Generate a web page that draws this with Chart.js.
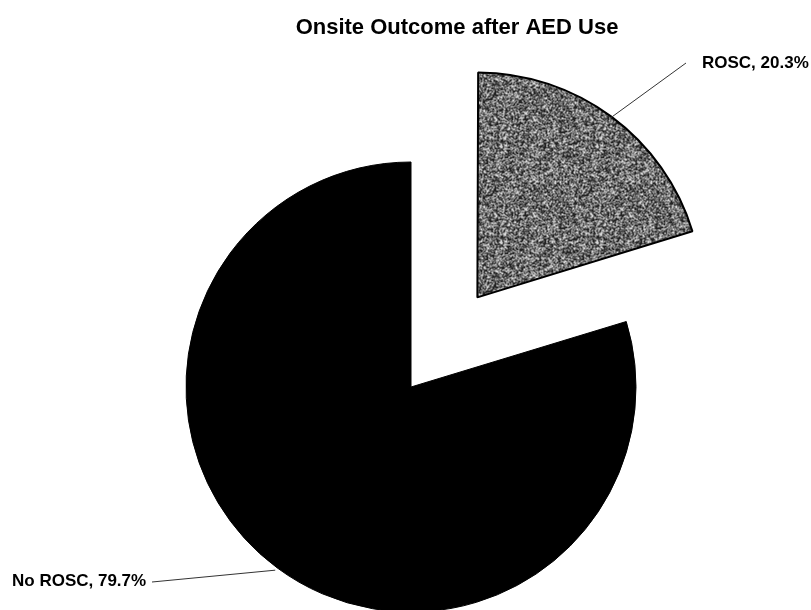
<!DOCTYPE html>
<html>
<head>
<meta charset="utf-8">
<script src="https://cdn.jsdelivr.net/npm/chart.js@4.4.1/dist/chart.umd.min.js"></script>
<style>
  html, body { margin: 0; padding: 0; background: #fff; }
  #wrap { width: 811px; height: 610px; position: relative; }
</style>
</head>
<body>
<div id="wrap"><canvas id="pieChart" width="811" height="610"></canvas></div>
<script>
const chartTitle = 'Onsite Outcome after AED Use';
const outcomeLabels = ['ROSC', 'No ROSC'];
const outcomePercents = [20.3, 79.7];

const FONT = '"Liberation Sans", Arial, sans-serif';

// grainy grey fill like the scanned ROSC slice (fixed seed, purely a texture)
function makeSpeckle() {
  const size = 96;
  const c = document.createElement('canvas');
  c.width = c.height = size;
  const g = c.getContext('2d');
  const img = g.createImageData(size, size);
  let s = 20240611;
  for (let i = 0; i < size * size; i++) {
    s = (Math.imul(s, 1103515245) + 12345) >>> 0;
    const r = (s >>> 16) % 100;
    const v = r < 47 ? 35 : (r < 67 ? 120 : 215);
    img.data[i * 4] = v; img.data[i * 4 + 1] = v; img.data[i * 4 + 2] = v; img.data[i * 4 + 3] = 255;
  }
  g.putImageData(img, 0, 0);
  return g.createPattern(c, 'repeat');
}

// Chart.js grows an offset slice's radius a little; take that back so both slices match
const sameRadiusPlugin = {
  id: 'sameRadius',
  afterDatasetsUpdate(chart) {
    chart.getDatasetMeta(0).data.forEach(arc => {
      const off = (arc.options.offset || 0) / 4;
      const fix = 1 - Math.sin(Math.min(Math.PI, arc.circumference));
      arc.outerRadius -= off * fix;
    });
  }
};

// title, label text and leader lines, anchored on each arc's mid angle
const calloutPlugin = {
  id: 'callouts',
  afterDatasetsDraw(chart, args, opts) {
    const ctx = chart.ctx;
    const meta = chart.getDatasetMeta(0);
    ctx.save();
    ctx.fillStyle = '#000';
    ctx.font = 'bold 22px ' + FONT;
    ctx.textAlign = 'center';
    ctx.textBaseline = 'alphabetic';
    ctx.fillText(chartTitle, opts.titleX, opts.titleY);

    ctx.font = 'bold 17px ' + FONT;
    ctx.textAlign = 'left';
    meta.data.forEach((arc, i) => {
      const p = arc.getProps(['x', 'y', 'startAngle', 'endAngle', 'outerRadius'], true);
      const mid = (p.startAngle + p.endAngle) / 2;
      const off = (arc.options.offset || 0) / 4;
      const cx = p.x + Math.cos(mid) * off;
      const cy = p.y + Math.sin(mid) * off;
      const ax = cx + Math.cos(mid) * (p.outerRadius + 3);
      const ay = cy + Math.sin(mid) * (p.outerRadius + 3);
      const pos = opts.positions[i];
      ctx.strokeStyle = '#333';
      ctx.lineWidth = 1;
      ctx.beginPath();
      ctx.moveTo(ax, ay);
      ctx.lineTo(pos.lineX, pos.lineY);
      ctx.stroke();
      ctx.fillText(outcomeLabels[i] + ', ' + outcomePercents[i] + '%', pos.textX, pos.textY);
    });
    ctx.restore();
  }
};

const ctx = document.getElementById('pieChart').getContext('2d');
new Chart(ctx, {
  type: 'pie',
  data: {
    labels: outcomeLabels,
    datasets: [{
      data: outcomePercents,
      backgroundColor: [makeSpeckle(), '#000000'],
      borderColor: ['#000000', '#000000'],
      borderWidth: [2, 1],
      offset: [446, 0],
      hoverOffset: 0,
      cutout: '0%',
      radius: 225,
      clip: false
    }]
  },
  options: {
    responsive: false,
    animation: false,
    events: [],
    cutout: '0%',
    radius: 225,
    layout: { padding: { left: 11, right: 0, top: 164, bottom: 0 } },
    plugins: {
      legend: { display: false },
      tooltip: { enabled: false },
      title: { display: false },
      callouts: {
        titleX: 457, titleY: 34,
        positions: [
          { lineX: 686, lineY: 63, textX: 702, textY: 68 },
          { lineX: 152, lineY: 582, textX: 12, textY: 586 }
        ]
      }
    }
  },
  plugins: [sameRadiusPlugin, calloutPlugin]
});
</script>
</body>
</html>
